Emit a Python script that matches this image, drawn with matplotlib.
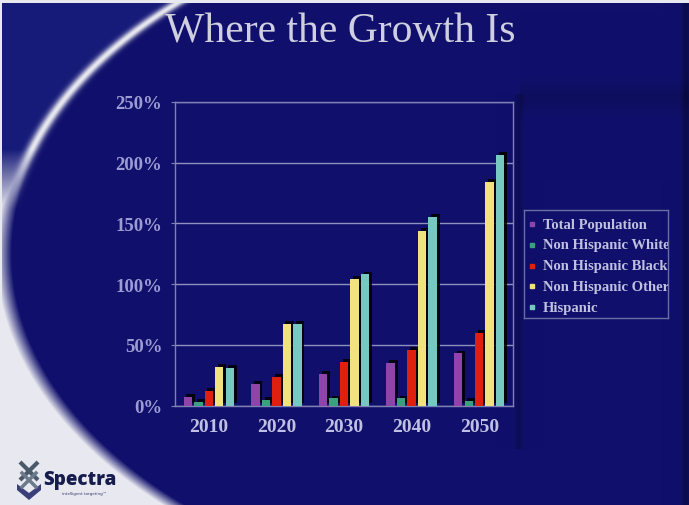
import numpy as np
import matplotlib
matplotlib.use("Agg")
import matplotlib.pyplot as plt
import matplotlib.patheffects as pe

# growth relative to 2000, in percent
years = ["2010", "2020", "2030", "2040", "2050"]
series = ["Total Population", "Non Hispanic White", "Non Hispanic Black",
          "Non Hispanic Other", "Hispanic"]
total_pop = [7.5, 18, 26, 35, 43]
nh_white = [3, 5, 6, 6, 4]
nh_black = [12, 24, 36, 46, 60]
nh_other = [32, 67, 104, 144, 184]
hispanic = [31, 67, 108, 155, 206]
colors = ["#8e44a8", "#3aa07e", "#e0200e", "#f2e27c", "#78c8c2"]

W, H = 689, 506
fig = plt.figure(figsize=(W / 100, H / 100), dpi=100)

# slide background: navy with a pale swoosh on the left
bg = fig.add_axes([0, 0, 1, 1])
bg.set_xlim(0, W)
bg.set_ylim(H, 0)
bg.axis("off")

yy, xx = np.mgrid[0:H, 0:W] + 0.5
cx, cy, a, b = 570.0, 255.0, 556.0, 345.0
d = np.sqrt(((xx - cx) / a) ** 2 + ((yy - cy) / b) ** 2)

navy = np.array([16, 16, 108]) / 255
navy_out = np.array([22, 26, 120]) / 255
white = np.array([232, 232, 240]) / 255

low = np.clip((yy - 150) / 60, 0, 1)[..., None]
outside = navy_out * (1 - low) + white * low
soft = 0.006 + 0.022 * low[..., 0]
s = np.clip((d - 1.004) / soft, 0, 1)[..., None]
img = navy * (1 - s) + outside * s

arc = np.exp(-((d - 1.014) / 0.01) ** 2) * (1 - low[..., 0])
img = img * (1 - arc[..., None]) + white * arc[..., None]

# darker shading right of the chart and at the slide edge
shade = 1 - 0.2 * np.exp(-((xx - 519) / 4) ** 2) * ((yy > 95) & (yy < 450))
shade -= 0.3 * np.exp(-((xx - 686) / 4) ** 2)
shade -= 0.12 * np.exp(-((yy - 98) / 14) ** 2) * (xx > 520)
inside = (d < 1)
img = np.where(inside[..., None], img * shade[..., None], img)

img[yy < 4] = white
img[xx < 2.5] = white
bg.imshow(np.clip(img, 0, 1), extent=[0, W, H, 0], aspect="auto", zorder=0)

fig.text(340 / W, 1 - 32 / H, "Where the Growth Is", ha="center", va="center",
         family="Liberation Serif", fontsize=30, color="#cfcfe0")

# logo
bg.plot([20, 38], [463, 481], color="#4a5a6a", lw=3, solid_capstyle="butt")
bg.plot([38, 20], [463, 481], color="#4a5a6a", lw=3, solid_capstyle="butt")
bg.plot([22, 36], [474, 488], color="#6a7a8a", lw=2.5)
bg.plot([36, 22], [474, 488], color="#6a7a8a", lw=2.5)
bg.fill([17, 29, 41, 41, 29, 17], [485, 494, 485, 491, 501, 491], color="#3a3f7a", lw=0)
bg.text(43, 480, "Spectra", family="Open Sans", fontweight="heavy", fontsize=13.5,
        color="#161c4e", va="center", ha="left")
bg.text(62, 494, "intelligent targeting\u2122", family="DejaVu Sans", fontsize=3,
        color="#3a3f6a", va="center", ha="left")

# chart
ax = fig.add_axes([175 / W, (H - 406.7) / H, 338 / W, 304 / H])
ax.patch.set_alpha(0)
x = np.arange(len(years))
bw = 0.155
values = [total_pop, nh_white, nh_black, nh_other, hispanic]
shadow = [pe.SimplePatchShadow(offset=(2, 2), shadow_rgbFace="black", alpha=0.85),
          pe.Normal()]
for i, (vals, col) in enumerate(zip(values, colors)):
    ax.bar(x + (i - 2) * bw, vals, width=bw * 0.8, color=col, zorder=3,
           path_effects=shadow)

ax.set_xlim(-0.5, 4.5)
ax.set_ylim(0, 250)
ax.set_yticks(range(0, 251, 50))
ax.set_yticklabels([f"{v}%" for v in range(0, 251, 50)])
ax.set_xticks(x)
ax.set_xticklabels(years)
ax.grid(axis="y", color="#9090c0", lw=1, zorder=1)
for side in ["left", "top", "right", "bottom"]:
    ax.spines[side].set_color("#8080b4")
    ax.spines[side].set_linewidth(1)
ax.tick_params(axis="y", length=3, color="#8080b4", pad=6, labelsize=13.5,
               labelcolor="#9c9cd4")
ax.tick_params(axis="x", length=0, pad=9, labelsize=14, labelcolor="#c0c0e4")
for lab in ax.get_xticklabels() + ax.get_yticklabels():
    lab.set_family("Liberation Serif")
    lab.set_fontweight("bold")

# legend box, entries clipped at the frame
lg = fig.add_axes([524 / W, (H - 319) / H, 144 / W, 108 / H])
lg.patch.set_alpha(0)
lg.set_xlim(0, 144)
lg.set_ylim(108, 0)
lg.set_xticks([])
lg.set_yticks([])
for side in lg.spines.values():
    side.set_color("#6c6ca4")
    side.set_linewidth(1)
for i, (name, col) in enumerate(zip(series, colors)):
    ypos = 14 + i * 20.8
    lg.plot(8, ypos, marker="s", ms=3.5, color=col, mec=col)
    lg.text(19, ypos, name, family="Liberation Serif", fontweight="bold",
            fontsize=10.5, color="#c0c0e0", va="center", ha="left", clip_on=True)

fig.savefig("out.png", dpi=100)
